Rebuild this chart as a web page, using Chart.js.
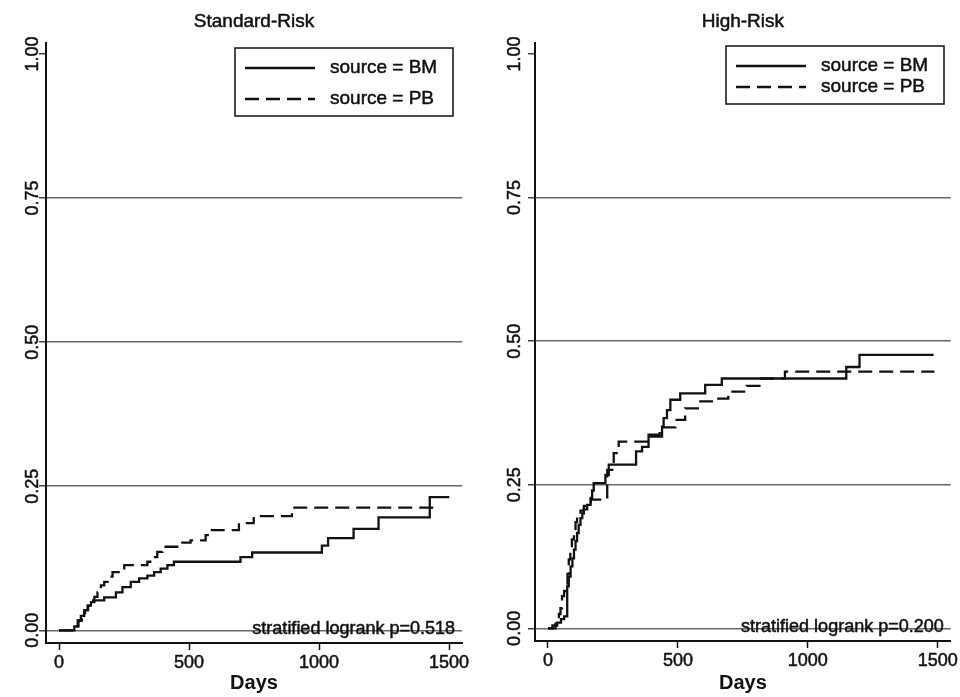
<!DOCTYPE html>
<html>
<head>
<meta charset="utf-8">
<script src="https://cdn.jsdelivr.net/npm/chart.js@4.4.1/dist/chart.umd.min.js"></script>
<style>
  html, body { margin: 0; padding: 0; background: #fff; }
  .wrap { position: relative; width: 960px; height: 697px; }
  .panel { position: absolute; top: 0; width: 480px; height: 697px; }
</style>
</head>
<body>
<div class="wrap">
  <div class="panel" style="left:0"><canvas id="stdChart" width="480" height="697"></canvas></div>
  <div class="panel" style="left:480px"><canvas id="hiChart" width="480" height="697"></canvas></div>
</div>
<script>
const panelTitles = ['Standard-Risk', 'High-Risk'];
const seriesLabels = ['source = BM', 'source = PB'];
const pValues = ['0.518', '0.200'];
const yTicks = [0, 0.25, 0.5, 0.75, 1];
const xTicks = [0, 500, 1000, 1500];

// Standard-Risk, bone marrow
const stdBmDays = [0, 59, 72, 84, 97, 110, 123, 136, 174, 219, 244, 276, 308, 340, 366, 391, 417, 442, 698, 743, 1011, 1035, 1133, 1229, 1426, 1501];
const stdBmRisk = [0, 0.007, 0.017, 0.025, 0.035, 0.043, 0.049, 0.052, 0.057, 0.066, 0.075, 0.084, 0.090, 0.095, 0.101, 0.107, 0.113, 0.119, 0.127, 0.135, 0.147, 0.160, 0.176, 0.196, 0.231, 0.231];
// Standard-Risk, peripheral blood
const stdPbDays = [0, 62, 75, 88, 100, 112, 123, 136, 148, 161, 174, 187, 206, 251, 340, 359, 378, 398, 474, 506, 564, 583, 692, 749, 896, 1446];
const stdPbRisk = [0, 0.007, 0.017, 0.025, 0.035, 0.043, 0.052, 0.058, 0.066, 0.078, 0.084, 0.093, 0.101, 0.113, 0.119, 0.127, 0.136, 0.145, 0.152, 0.156, 0.165, 0.174, 0.186, 0.198, 0.213, 0.213];
// High-Risk, bone marrow
const hiBmDays = [0, 17, 35, 50, 62, 74, 80, 87, 94, 100, 106, 112, 118, 125, 132, 138, 151, 164, 170, 176, 221, 234, 339, 362, 387, 439, 445, 458, 471, 509, 605, 669, 1148, 1199, 1484];
const hiBmRisk = [0, 0.005, 0.010, 0.016, 0.021, 0.073, 0.090, 0.108, 0.122, 0.137, 0.152, 0.166, 0.180, 0.192, 0.200, 0.207, 0.215, 0.227, 0.240, 0.253, 0.267, 0.285, 0.308, 0.316, 0.334, 0.351, 0.366, 0.380, 0.398, 0.409, 0.424, 0.435, 0.455, 0.476, 0.476];
// High-Risk, peripheral blood
const hiPbDays = [0, 29, 35, 42, 48, 54, 62, 68, 75, 80, 86, 92, 100, 106, 112, 125, 138, 165, 228, 253, 272, 387, 430, 490, 528, 586, 650, 694, 765, 821, 912, 1487];
const hiPbRisk = [0, 0.008, 0.016, 0.025, 0.035, 0.056, 0.065, 0.075, 0.095, 0.120, 0.140, 0.155, 0.170, 0.185, 0.195, 0.205, 0.213, 0.224, 0.276, 0.305, 0.325, 0.337, 0.350, 0.363, 0.383, 0.395, 0.400, 0.412, 0.422, 0.435, 0.447, 0.447];

const FONT = '"Liberation Sans", Arial, sans-serif';
Chart.defaults.font.family = FONT;
Chart.defaults.font.size = 18;
Chart.defaults.color = '#111';

const toPoints = (days, risk) => days.map((d, i) => ({ x: d, y: risk[i] }));

// fill plus a thin stroke, the scanned original has heavy type
function heavyText(ctx, s, x, y) {
  ctx.fillText(s, x, y);
  ctx.strokeText(s, x, y);
}

// title, rotated y labels, boxed legend and logrank note
const panelDecor = {
  id: 'panelDecor',
  afterDraw(chart, args, opts) {
    const { ctx, chartArea, scales } = chart;
    ctx.save();
    ctx.fillStyle = '#111';
    ctx.strokeStyle = '#111';
    ctx.lineWidth = 0.5;
    ctx.textAlign = 'center';
    ctx.textBaseline = 'middle';
    ctx.font = '19px ' + FONT;
    heavyText(ctx, opts.title, (chartArea.left + chartArea.right) / 2, 22);

    ctx.font = '18px ' + FONT;
    scales.y.ticks.forEach(t => {
      const y = scales.y.getPixelForValue(t.value);
      ctx.save();
      ctx.translate(chartArea.left - opts.yLabelOffset, y);
      ctx.rotate(-Math.PI / 2);
      heavyText(ctx, t.value.toFixed(2), 0, 0);
      ctx.restore();
    });

    ctx.textAlign = 'right';
    heavyText(ctx, 'stratified logrank p=' + opts.p, chartArea.right - 7, scales.y.getPixelForValue(0) - 1);

    const b = opts.legendBox;
    ctx.lineWidth = 1.5;
    ctx.strokeRect(b.x, b.y, b.w, b.h);
    const rows = [b.y + 20, b.y + b.h - 17];
    ctx.font = '19px ' + FONT;
    ctx.textAlign = 'left';
    chart.data.datasets.forEach((ds, i) => {
      ctx.beginPath();
      ctx.setLineDash(ds.borderDash || []);
      ctx.lineWidth = ds.borderWidth;
      ctx.moveTo(b.x + 10, rows[i]);
      ctx.lineTo(b.x + 80, rows[i]);
      ctx.stroke();
      ctx.setLineDash([]);
      ctx.lineWidth = 0.5;
      heavyText(ctx, ds.label, b.x + 95, rows[i]);
    });
    ctx.restore();
  }
};

function makePanel(id, idx, bm, pb, lay) {
  new Chart(document.getElementById(id), {
    type: 'line',
    data: {
      datasets: [
        { label: seriesLabels[0], data: bm, borderColor: '#111', borderWidth: 2.3, stepped: true, pointRadius: 0 },
        { label: seriesLabels[1], data: pb, borderColor: '#111', borderWidth: 2.3, borderDash: [14, 7], stepped: true, pointRadius: 0 },
      ],
    },
    options: {
      responsive: false,
      animation: false,
      layout: { padding: { top: 43, right: lay.padRight, left: 0, bottom: 0 } },
      scales: {
        x: {
          type: 'linear',
          min: -50,
          max: 1550,
          afterBuildTicks: s => { s.ticks = xTicks.map(v => ({ value: v })); },
          afterFit: s => { s.height = lay.xHeight; },
          ticks: {
            padding: 2,
            color: '#111',
            font: { size: 18 },
            textStrokeColor: '#111',
            textStrokeWidth: 0.5,
            callback: v => String(v),
          },
          grid: { drawOnChartArea: false, drawTicks: true, tickLength: 7, tickColor: '#111', tickWidth: 1.5 },
          border: { display: true, color: '#111', width: 2 },
          title: { display: true, text: 'Days', font: { size: 20, weight: 'bold' }, padding: { top: 0, bottom: 2 } },
        },
        y: {
          type: 'linear',
          min: -0.022,
          max: 1.019,
          afterBuildTicks: s => { s.ticks = yTicks.map(v => ({ value: v })); },
          afterFit: s => { s.width = lay.yWidth; },
          ticks: { display: false },
          grid: {
            color: c => (c.tick && c.tick.value === 1 ? 'rgba(0,0,0,0)' : '#666'),
            lineWidth: 1.5,
            tickLength: 7,
            tickColor: '#444',
            tickWidth: 1.5,
          },
          border: { display: true, color: '#111', width: 2 },
        },
      },
      plugins: {
        legend: { display: false },
        tooltip: { enabled: false },
        panelDecor: {
          title: panelTitles[idx],
          p: pValues[idx],
          yLabelOffset: lay.yLabelOffset,
          legendBox: lay.legendBox,
        },
      },
    },
    plugins: [panelDecor],
  });
}

makePanel('stdChart', 0, toPoints(stdBmDays, stdBmRisk), toPoints(stdPbDays, stdPbRisk),
  { padRight: 18, yWidth: 46, xHeight: 54, yLabelOffset: 13, legendBox: { x: 235, y: 48, w: 218, h: 68 } });
makePanel('hiChart', 1, toPoints(hiBmDays, hiBmRisk), toPoints(hiPbDays, hiPbRisk),
  { padRight: 8, yWidth: 55, xHeight: 56, yLabelOffset: 20, legendBox: { x: 246, y: 46, w: 218, h: 58 } });
</script>
</body>
</html>
